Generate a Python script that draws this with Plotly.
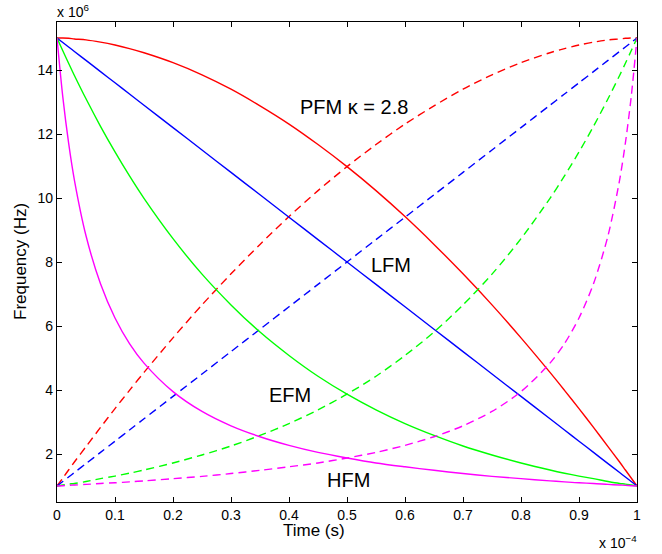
import plotly.graph_objects as go

# Time samples (x 1e-4 s)
t = [0, 0.01, 0.02, 0.03, 0.05, 0.075, 0.1, 0.125, 0.15, 0.2, 0.25, 0.3, 0.35, 0.4,
     0.45, 0.5, 0.55, 0.6, 0.65, 0.7, 0.75, 0.8, 0.85, 0.875, 0.9, 0.925, 0.95,
     0.97, 0.98, 0.99, 1.0]

# Frequencies (x 1e6 Hz)
pfm_down = [15.0, 15.0, 14.99, 14.97, 14.94, 14.87, 14.78, 14.67, 14.54, 14.23, 13.85,
            13.4, 12.88, 12.31, 11.67, 10.98, 10.23, 9.42, 8.55, 7.63, 6.66, 5.63,
            4.55, 3.99, 3.42, 2.83, 2.23, 1.75, 1.5, 1.25, 1.0]
pfm_up = [1.0, 1.25, 1.5, 1.75, 2.23, 2.83, 3.42, 3.99, 4.55, 5.63, 6.66, 7.63, 8.55,
          9.42, 10.23, 10.98, 11.67, 12.31, 12.88, 13.4, 13.85, 14.23, 14.54, 14.67,
          14.78, 14.87, 14.94, 14.97, 14.99, 15.0, 15.0]
lfm_down = [15.0, 14.86, 14.72, 14.58, 14.3, 13.95, 13.6, 13.25, 12.9, 12.2, 11.5, 10.8,
            10.1, 9.4, 8.7, 8.0, 7.3, 6.6, 5.9, 5.2, 4.5, 3.8, 3.1, 2.75, 2.4, 2.05,
            1.7, 1.42, 1.28, 1.14, 1.0]
lfm_up = [1.0, 1.14, 1.28, 1.42, 1.7, 2.05, 2.4, 2.75, 3.1, 3.8, 4.5, 5.2, 5.9, 6.6,
          7.3, 8.0, 8.7, 9.4, 10.1, 10.8, 11.5, 12.2, 12.9, 13.25, 13.6, 13.95, 14.3,
          14.58, 14.72, 14.86, 15.0]
efm_down = [15.0, 14.6, 14.21, 13.83, 13.1, 12.24, 11.44, 10.69, 9.99, 8.73, 7.62, 6.66,
            5.81, 5.08, 4.43, 3.87, 3.38, 2.95, 2.58, 2.25, 1.97, 1.72, 1.5, 1.4, 1.31,
            1.23, 1.14, 1.08, 1.06, 1.03, 1.0]
efm_up = [1.0, 1.03, 1.06, 1.08, 1.14, 1.23, 1.31, 1.4, 1.5, 1.72, 1.97, 2.25, 2.58,
          2.95, 3.38, 3.87, 4.43, 5.08, 5.81, 6.66, 7.62, 8.73, 9.99, 10.69, 11.44,
          12.24, 13.1, 13.83, 14.21, 14.6, 15.0]
hfm_down = [15.0, 13.16, 11.72, 10.56, 8.82, 7.32, 6.25, 5.45, 4.84, 3.95, 3.33, 2.88,
            2.54, 2.27, 2.05, 1.875, 1.72, 1.6, 1.49, 1.39, 1.3, 1.23, 1.16, 1.13, 1.1,
            1.08, 1.05, 1.03, 1.02, 1.01, 1.0]
hfm_up = [1.0, 1.01, 1.02, 1.03, 1.05, 1.08, 1.1, 1.13, 1.16, 1.23, 1.3, 1.39, 1.49,
          1.6, 1.72, 1.875, 2.05, 2.27, 2.54, 2.88, 3.33, 3.95, 4.84, 5.45, 6.25, 7.32,
          8.82, 10.56, 11.72, 13.16, 15.0]

series = [
    (pfm_down, "#FF0000", "solid"), (pfm_up, "#FF0000", "8px,5px"),
    (lfm_down, "#0000FF", "solid"), (lfm_up, "#0000FF", "8px,5px"),
    (efm_down, "#00FF00", "solid"), (efm_up, "#00FF00", "8px,5px"),
    (hfm_down, "#FF00FF", "solid"), (hfm_up, "#FF00FF", "8px,5px"),
]

x_ticks = [0, 0.1, 0.2, 0.3, 0.4, 0.5, 0.6, 0.7, 0.8, 0.9, 1]
x_tick_text = ["0", "0.1", "0.2", "0.3", "0.4", "0.5", "0.6", "0.7", "0.8", "0.9", "1"]
y_ticks = [2, 4, 6, 8, 10, 12, 14]
y_tick_text = ["2", "4", "6", "8", "10", "12", "14"]

labels = [("PFM \u03ba = 2.8", 0.512, 12.83), ("LFM", 0.575, 7.92),
          ("EFM", 0.402, 3.84), ("HFM", 0.503, 1.185)]

FONT = "Liberation Sans, Arial, Helvetica, sans-serif"

fig = go.Figure()
for ys, col, dash in series:
    fig.add_trace(go.Scatter(x=t, y=ys, mode="lines", showlegend=False,
                             line=dict(color=col, width=1.4, dash=dash,
                                       shape="spline", smoothing=0.8)))

for txt, lx, ly in labels:
    fig.add_annotation(x=lx, y=ly, text=txt, showarrow=False,
                       font=dict(size=20, color="black", family=FONT))

axis_common = dict(showline=True, linecolor="black", linewidth=1.2, mirror="ticks",
                   ticks="inside", ticklen=5, tickcolor="black", tickwidth=1,
                   showgrid=False, zeroline=False,
                   tickfont=dict(size=14, color="black", family=FONT))

fig.update_xaxes(range=[0, 1], tickvals=x_ticks, ticktext=x_tick_text, **axis_common)
fig.update_yaxes(range=[0.5, 15.5], tickvals=y_ticks, ticktext=y_tick_text, **axis_common)

# axis titles and exponent labels
fig.add_annotation(xref="paper", yref="paper", x=0, y=0.5, xshift=-37,
                   xanchor="center", yanchor="middle",
                   text="Frequency (Hz)", textangle=-90, showarrow=False,
                   font=dict(size=17, color="black", family=FONT))
fig.add_annotation(xref="paper", yref="paper", x=0.443, y=0, yshift=-17,
                   xanchor="center", yanchor="top",
                   text="Time (s)", showarrow=False,
                   font=dict(size=17, color="black", family=FONT))
fig.add_annotation(xref="paper", yref="paper", x=0, y=1, xanchor="left",
                   yanchor="bottom", yshift=0, xshift=-2,
                   text="x 10<sup>6</sup>", showarrow=False,
                   font=dict(size=14, color="black", family=FONT))
fig.add_annotation(xref="paper", yref="paper", x=1, y=0, xanchor="right",
                   yanchor="top", yshift=-29, xshift=2,
                   text="x 10<sup>\u22124</sup>", showarrow=False,
                   font=dict(size=14, color="black", family=FONT))

fig.update_layout(width=662, height=554, margin=dict(l=57, r=25, t=22, b=52),
                  paper_bgcolor="white", plot_bgcolor="white",
                  font=dict(family=FONT, color="black", size=14))

fig.write_html("out.html")
